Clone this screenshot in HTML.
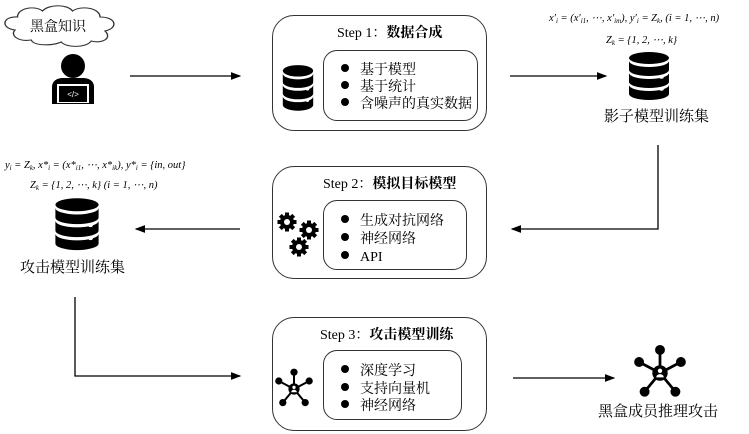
<!DOCTYPE html>
<html><head><meta charset="utf-8"><style>
body{margin:0;width:749px;height:434px;background:#fff;position:relative;overflow:hidden;font-family:"Liberation Serif","Noto Serif CJK SC",serif;color:#000}
.t{position:absolute;white-space:nowrap;line-height:1}
.box{position:absolute;border:1.3px solid #333;border-radius:22px;box-sizing:border-box}
.in{position:absolute;border:1.3px solid #333;border-radius:14px;box-sizing:border-box}
.li{position:absolute;font-size:14px;white-space:nowrap;line-height:1}
.li:before{content:"";display:inline-block;width:8px;height:8px;border-radius:50%;background:#000;margin-right:11px;vertical-align:2px}
.f{font-family:"Liberation Serif","DejaVu Serif",serif;font-style:italic;font-size:10.5px}
.f sub{font-size:7px;line-height:0;vertical-align:-2px}
</style></head><body>
<svg width="749" height="434" style="position:absolute;left:0;top:0">
<defs>
<marker id="a" markerWidth="8" markerHeight="6" refX="7" refY="3" orient="auto"><path d="M0,0L8,3L0,6z" fill="#000"/></marker>
<g id="db"><ellipse cx="0" cy="-16" rx="16" ry="6"/><path d="M-16,-13v9a16,6 0 0 0 32,0v-9a16,6 0 0 1 -32,0z"/><path d="M-16,-1v9a16,6 0 0 0 32,0v-9a16,6 0 0 1 -32,0z"/><path d="M-16,11v9a16,6 0 0 0 32,0v-9a16,6 0 0 1 -32,0z"/><circle cx="10" cy="3" r="1.8" fill="#fff"/><circle cx="10" cy="15" r="1.8" fill="#fff"/><circle cx="10" cy="27" r="1.8" fill="#fff"/></g>
<g id="net" stroke="#000" stroke-width="2.5"><line x1="0" y1="0" x2="0" y2="-21"/><line x1="0" y1="0" x2="-19" y2="-10"/><line x1="0" y1="0" x2="19" y2="-10"/><line x1="0" y1="0" x2="-14" y2="17"/><line x1="0" y1="0" x2="14" y2="17"/><circle cx="0" cy="-21" r="4.5" stroke="none"/><circle cx="-19" cy="-10" r="4.5" stroke="none"/><circle cx="19" cy="-10" r="4.5" stroke="none"/><circle cx="-14" cy="17" r="4.5" stroke="none"/><circle cx="14" cy="17" r="4.5" stroke="none"/><circle cx="0" cy="0" r="7" stroke="none"/><circle cx="0" cy="-2" r="2" fill="#fff" stroke="none"/><path d="M-3.5,4a3.5,3 0 0 1 7,0z" fill="#fff" stroke="none"/></g>
<g id="gear"><circle r="7"/><g stroke="#000" stroke-width="4"><line x1="-9.5" y1="0" x2="9.5" y2="0"/><line x1="0" y1="-9.5" x2="0" y2="9.5"/><line x1="-6.7" y1="-6.7" x2="6.7" y2="6.7"/><line x1="-6.7" y1="6.7" x2="6.7" y2="-6.7"/></g><circle r="3" fill="#fff"/></g>
</defs>
<g transform="translate(0,0) scale(1.25,1)"><path d="M12,30c-12,-2 -10,-14 2,-13c0,-9 14,-12 20,-6c5,-7 20,-7 24,0c7,-6 22,-3 22,6c13,0 15,11 4,14c6,7 -2,13 -11,10c-4,7 -20,7 -24,1c-7,4 -22,4 -24,-2c-11,2 -17,-5 -13,-10z" fill="#fff" stroke="#333" stroke-width="1.1"/></g>
<circle cx="73" cy="66" r="12"/>
<path d="M52,104v-17c0,-6 5,-9 11,-9h20c6,0 11,3 11,9v17z"/>
<rect x="57" y="84" width="32" height="19" fill="#fff"/><rect x="59" y="86" width="28" height="16"/>
<text x="73" y="97" font-size="8" fill="#fff" text-anchor="middle" font-family="Liberation Sans">&lt;/&gt;</text>
<g stroke="#000" stroke-width="1.3" fill="none" marker-end="url(#a)">
<line x1="130" y1="76" x2="240" y2="76"/>
<line x1="510" y1="76" x2="606" y2="76"/>
<polyline points="658,145 658,229 512,229"/>
<line x1="240" y1="229" x2="136" y2="229"/>
<polyline points="75,297 75,376 240,376"/>
<line x1="513" y1="378" x2="614" y2="378"/>
</g>
<g transform="translate(649,74) scale(1.25,1)"><use href="#db"/></g>
<g transform="translate(77,222) scale(1.35,1.08)"><use href="#db"/></g>
<g transform="translate(298,86) scale(0.95)"><use href="#db"/></g>
<use href="#gear" x="287" y="222"/><use href="#gear" x="309" y="230"/><use href="#gear" x="299" y="247"/>
<g transform="translate(294,389) scale(0.8)"><use href="#net"/></g>
<g transform="translate(660,373) scale(1.1)"><use href="#net"/></g>
</svg>
<div class="t" style="left:30px;top:21px;font-size:14px">黑盒知识</div>

<div class="box" style="left:272px;top:15px;width:215px;height:116px"></div>
<div class="in" style="left:323px;top:50px;width:155px;height:71px"></div>
<div class="t" style="left:337px;top:27px;font-size:14px">Step 1：<b>数据合成</b></div>
<div class="li" style="left:341px;top:64px">基于模型</div>
<div class="li" style="left:341px;top:81px">基于统计</div>
<div class="li" style="left:341px;top:98px">含噪声的真实数据</div>

<div class="box" style="left:272px;top:166px;width:215px;height:113px"></div>
<div class="in" style="left:323px;top:200px;width:144px;height:70px"></div>
<div class="t" style="left:323px;top:178px;font-size:14px">Step 2：<b>模拟目标模型</b></div>
<div class="li" style="left:341px;top:215px">生成对抗网络</div>
<div class="li" style="left:341px;top:233px">神经网络</div>
<div class="li" style="left:341px;top:251px">API</div>

<div class="box" style="left:272px;top:317px;width:215px;height:114px"></div>
<div class="in" style="left:323px;top:350px;width:139px;height:70px"></div>
<div class="t" style="left:320px;top:329px;font-size:14px">Step 3：<b>攻击模型训练</b></div>
<div class="li" style="left:341px;top:365px">深度学习</div>
<div class="li" style="left:341px;top:383px">支持向量机</div>
<div class="li" style="left:341px;top:400px">神经网络</div>

<div class="t f" style="left:549px;top:14px">x′<sub>i</sub> = (x′<sub>i1</sub>, ⋯, x′<sub>im</sub>), y′<sub>i</sub> = Z<sub>k</sub>, (i = 1, ⋯, n)</div>
<div class="t f" style="left:606px;top:36px">Z<sub>k</sub> = {1, 2, ⋯, k}</div>
<div class="t" style="left:604px;top:110px;font-size:15px">影子模型训练集</div>

<div class="t f" style="left:5px;top:161px">y<sub>i</sub> = Z<sub>k</sub>, x*<sub>i</sub> = (x*<sub>i1</sub>, ⋯, x*<sub>ik</sub>), y*<sub>i</sub> = {in, out}</div>
<div class="t f" style="left:30px;top:181px">Z<sub>k</sub> = {1, 2, ⋯, k} (i = 1, ⋯, n)</div>
<div class="t" style="left:20px;top:261px;font-size:15px">攻击模型训练集</div>

<div class="t" style="left:598px;top:405px;font-size:15px">黑盒成员推理攻击</div>
</body></html>
